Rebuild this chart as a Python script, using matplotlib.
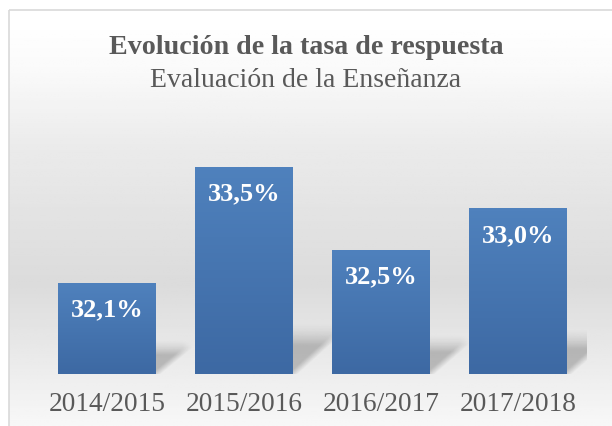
import numpy as np
import matplotlib.pyplot as plt
from matplotlib.patches import Rectangle

cursos = ["2014/2015", "2015/2016", "2016/2017", "2017/2018"]
tasa = [32.1, 33.5, 32.5, 33.0]
etiquetas = ["32,1%", "33,5%", "32,5%", "33,0%"]

base = 31.0
fig = plt.figure(figsize=(6.12, 4.26), dpi=100)

# fondo con degradado
bg = fig.add_axes([0, 0, 1, 1])
bg.set_xlim(0, 612)
bg.set_ylim(426, 0)
bg.axis("off")
yy = np.linspace(0, 426, 200)
g = np.interp(yy, [10, 60, 140, 280, 426], [1.0, 0.98, 0.92, 0.86, 0.97])
grad = np.repeat(g[:, None], 2, axis=1)
bg.imshow(grad, cmap="gray", vmin=0, vmax=1, extent=[9, 612, 426, 10],
          aspect="auto", zorder=0)
bg.add_patch(Rectangle((9, 10), 610, 420, fill=False, edgecolor="#d9d9d9", lw=1.2, zorder=1))

ax = fig.add_axes([0.0629, 0.122, 0.895, 0.5845])
ax.patch.set_alpha(0)
ax.set_xlim(-0.5, 3.5)
ax.set_ylim(base, 34.0)
for s in ax.spines.values():
    s.set_visible(False)
ax.set_yticks([])
ax.set_xticks(range(len(cursos)))
ax.set_xticklabels(cursos, fontsize=19.7, color="#595959", family="Liberation Serif")
ax.tick_params(axis="x", length=0, pad=13)

w = 0.715
bars = ax.bar(range(len(cursos)), [t - base for t in tasa], bottom=base, width=w,
              color="#4a78b4", zorder=3)

# sombras en perspectiva (difusas)
px_x = 548 / 4.0
px_y = 249 / 3.0
for i, t in enumerate(tasa):
    hp = (t - base) * px_y
    dx = (22 + 0.1 * hp) / px_x
    sh = (22 + 0.14 * hp) / px_y
    blur = 10 / px_x
    x1 = i + w / 2
    n = 80
    vy = np.linspace(0, 1, n)[:, None]
    xs = x1 + np.linspace(0, 1, n)[None, :] * (dx + blur)
    edge = x1 + dx * np.minimum(vy / 0.75, 1)
    side = np.clip((edge - xs) / blur + 0.5, 0, 1)
    top = np.clip((1 - vy) / 0.45, 0, 1) ** 1.5
    a = 0.22 * side * top
    rgba = np.zeros((n, n, 4))
    rgba[..., 3] = a
    ax.imshow(rgba, extent=[x1, x1 + dx + blur, base, base + sh], origin="lower",
              aspect="auto", zorder=2, interpolation="bilinear")

# degradado de las barras
for b in bars:
    b.set_facecolor("none")
    x, y = b.get_x(), b.get_y()
    tp = y + b.get_height()
    col = np.linspace(0, 1, 50)[:, None]
    c_top = np.array([0x4f, 0x81, 0xbd]) / 255
    c_bot = np.array([0x3d, 0x69, 0xa3]) / 255
    arr = c_bot + (c_top - c_bot) * col[..., None]
    arr = np.repeat(arr, 2, axis=1)
    bim = ax.imshow(arr, extent=[x, x + w, y, tp], origin="lower", aspect="auto", zorder=3)
    bim.set_clip_path(b)

ax.set_xlim(-0.5, 3.5)
ax.set_ylim(base, 34.0)

for i, t in enumerate(tasa):
    ax.text(i, t - 0.33, etiquetas[i], ha="center", va="center", color="white",
            fontsize=19, fontweight="bold", family="Liberation Serif", zorder=5)

fig.text(0.5, 0.889, "Evolución de la tasa de respuesta", ha="center", va="center",
         fontsize=20.2, fontweight="bold", color="#595959", family="Liberation Serif")
fig.text(0.5, 0.81, "Evaluación de la Enseñanza", ha="center", va="center",
         fontsize=20, color="#595959", family="Liberation Serif")

fig.savefig("out.png", dpi=100)
